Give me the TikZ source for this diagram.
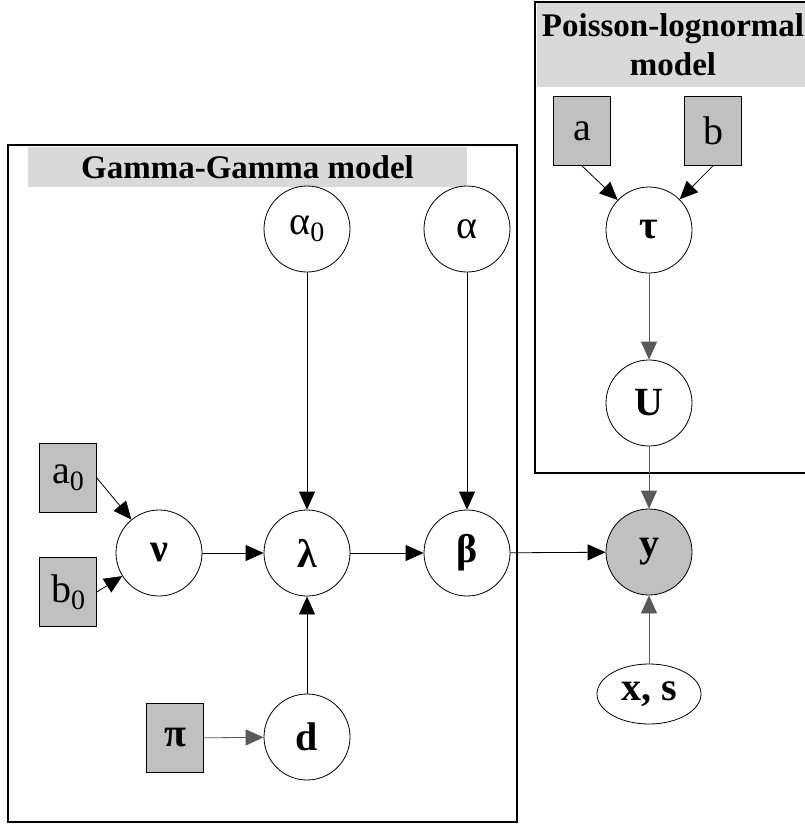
\documentclass[tikz,border=0pt]{standalone}
\usepackage{fontspec}
\setmainfont{Liberation Serif}
\usetikzlibrary{arrows.meta,shapes.geometric}
\definecolor{silverfill}{RGB}{192,192,192}
\definecolor{hdrfill}{RGB}{217,217,217}
\newcommand{\subz}[1]{\raisebox{-0.4ex}{\fontsize{28}{28}\selectfont #1}}
\begin{document}
\begin{tikzpicture}[x=1pt,y=-1pt,
  var/.style={circle,draw,line width=0.8pt,minimum size=86pt,inner sep=0pt,fill=white,font=\fontsize{40}{42}\selectfont},
  obs/.style={var,fill=silverfill},
  hyp/.style={rectangle,draw,line width=0.8pt,fill=silverfill,minimum width=57pt,minimum height=69pt,inner sep=0pt,font=\fontsize{40}{42}\selectfont},
  edge/.style={-{Triangle[length=18pt,width=16pt]},line width=0.8pt},
  grayedge/.style={edge,draw=black!65},
  plate/.style={draw,line width=2pt},
  header/.style={fill=hdrfill,inner sep=0pt,align=center,font=\bfseries\fontsize{33}{39}\selectfont}]
\useasboundingbox (0,0) rectangle (804,824);
% plates
\draw[plate] (8,145) rectangle (517,822);
\draw[plate] (535,2) rectangle (810,473);
\node[header,minimum width=439pt,minimum height=40pt] (ghdr) at (247.5,167) {Gamma-Gamma model};
\node[header,minimum width=272pt,minimum height=84pt] (phdr) at (673,45) {Poisson-lognormal\\model};
% Poisson-lognormal nodes
\node[hyp] (a) at (582,131) {a};
\node[hyp] (b) at (713,131) {b};
\node[var] (tau) at (649,230) {\textbf{τ}};
\node[var] (U) at (649,403) {\textbf{U}};
% Gamma-Gamma nodes
\node[var] (alpha0) at (307,229) {α\subz{0}};
\node[var] (alpha) at (467,229) {α};
\node[hyp] (a0) at (68,478) {a\subz{0}};
\node[hyp] (b0) at (68,592) {b\subz{0}};
\node[var] (nu) at (159,553) {\textbf{ν}};
\node[var] (lambda) at (307,553) {\textbf{λ}};
\node[var] (beta) at (467,553) {\textbf{β}};
\node[hyp] (pi) at (175,738) {\textbf{π}};
\node[var] (d) at (307,737) {\textbf{d}};
% outside
\node[obs] (y) at (649,552) {\textbf{y}};
\node[ellipse,draw,line width=0.8pt,minimum width=104pt,minimum height=60pt,inner sep=0pt,font=\fontsize{40}{42}\selectfont] (xs) at (649,694) {\textbf{x, s}};
% edges
\draw[edge] (a.south) -- (tau);
\draw[edge] (b.south) -- (tau);
\draw[grayedge] (tau) -- (U);
\draw[grayedge] (U) -- (y);
\draw[edge] (alpha0) -- (lambda);
\draw[edge] (alpha) -- (beta);
\draw[edge] (a0.east) -- (nu);
\draw[edge] (b0.east) -- (nu);
\draw[edge] (nu) -- (lambda);
\draw[edge] (lambda) -- (beta);
\draw[edge] (beta) -- (y);
\draw[edge] (d) -- (lambda);
\draw[grayedge] (pi) -- (d);
\draw[grayedge] (xs) -- (y);
\end{tikzpicture}
\end{document}
